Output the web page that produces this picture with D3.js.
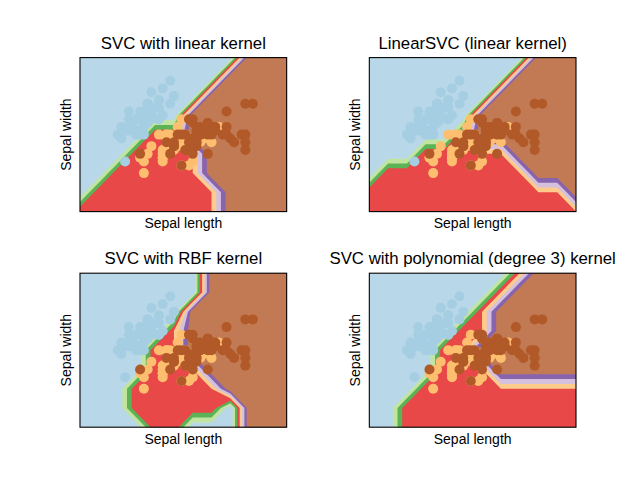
<!DOCTYPE html>
<html lang="en">

<head>
    <title>svm iris</title>
    <script src="https://d3js.org/d3.v7.min.js"></script>
    <style>
        body {
            margin: 0;
            background: white;
        }

        text {
            font-family: "Liberation Sans", sans-serif;
            fill: black;
        }
    </style>
</head>

<body>
    <svg id="canvas" width="640" height="480"></svg>
    <script>
        // iris, first two features
        const setosaLength = [5.1, 4.9, 4.7, 4.6, 5.0, 5.4, 4.6, 5.0, 4.4, 4.9, 5.4, 4.8, 4.8, 4.3, 5.8, 5.7, 5.4, 5.1, 5.7, 5.1, 5.4, 5.1, 4.6, 5.1, 4.8, 5.0, 5.0, 5.2, 5.2, 4.7, 4.8, 5.4, 5.2, 5.5, 4.9, 5.0, 5.5, 4.9, 4.4, 5.1, 5.0, 4.5, 4.4, 5.0, 5.1, 4.8, 5.1, 4.6, 5.3, 5.0]
        const setosaWidth = [3.5, 3.0, 3.2, 3.1, 3.6, 3.9, 3.4, 3.4, 2.9, 3.1, 3.7, 3.4, 3.0, 3.0, 4.0, 4.4, 3.9, 3.5, 3.8, 3.8, 3.4, 3.7, 3.6, 3.3, 3.4, 3.0, 3.4, 3.5, 3.4, 3.2, 3.1, 3.4, 4.1, 4.2, 3.1, 3.2, 3.5, 3.6, 3.0, 3.4, 3.5, 2.3, 3.2, 3.5, 3.8, 3.0, 3.8, 3.2, 3.7, 3.3]
        const versicolorLength = [7.0, 6.4, 6.9, 5.5, 6.5, 5.7, 6.3, 4.9, 6.6, 5.2, 5.0, 5.9, 6.0, 6.1, 5.6, 6.7, 5.6, 5.8, 6.2, 5.6, 5.9, 6.1, 6.3, 6.1, 6.4, 6.6, 6.8, 6.7, 6.0, 5.7, 5.5, 5.5, 5.8, 6.0, 5.4, 6.0, 6.7, 6.3, 5.6, 5.5, 5.5, 6.1, 5.8, 5.0, 5.6, 5.7, 5.7, 6.2, 5.1, 5.7]
        const versicolorWidth = [3.2, 3.2, 3.1, 2.3, 2.8, 2.8, 3.3, 2.4, 2.9, 2.7, 2.0, 3.0, 2.2, 2.9, 2.9, 3.1, 3.0, 2.7, 2.2, 2.5, 3.2, 2.8, 2.5, 2.8, 2.9, 3.0, 2.8, 3.0, 2.9, 2.6, 2.4, 2.4, 2.7, 2.7, 3.0, 3.4, 3.1, 2.3, 3.0, 2.5, 2.6, 3.0, 2.6, 2.3, 2.7, 3.0, 2.9, 2.9, 2.5, 2.8]
        const virginicaLength = [6.3, 5.8, 7.1, 6.3, 6.5, 7.6, 4.9, 7.3, 6.7, 7.2, 6.5, 6.4, 6.8, 5.7, 5.8, 6.4, 6.5, 7.7, 7.7, 6.0, 6.9, 5.6, 7.7, 6.3, 6.7, 7.2, 6.2, 6.1, 6.4, 7.2, 7.4, 7.9, 6.4, 6.3, 6.1, 7.7, 6.3, 6.4, 6.0, 6.9, 6.7, 6.9, 5.8, 6.8, 6.7, 6.7, 6.3, 6.5, 6.2, 5.9]
        const virginicaWidth = [3.3, 2.7, 3.0, 2.9, 3.0, 3.0, 2.5, 2.9, 2.5, 3.6, 3.2, 2.7, 3.0, 2.5, 2.8, 3.2, 3.0, 3.8, 2.6, 2.2, 3.2, 2.8, 2.8, 2.7, 3.3, 3.2, 2.8, 3.0, 2.8, 3.0, 2.8, 3.8, 2.8, 2.8, 2.6, 3.0, 3.4, 3.1, 3.0, 3.1, 3.1, 3.1, 2.7, 3.2, 3.3, 3.0, 2.5, 3.0, 3.4, 3.0]

        // mesh the regions are contoured on
        const meshX = [3.3, 3.8, 4.3, 4.8, 5.3, 5.8, 6.3, 6.8, 7.3, 7.8, 8.3, 8.8]
        const meshY = [1.0, 1.5, 2.0, 2.5, 3.0, 3.5, 4.0, 4.5, 5.0]

        // predicted class on the mesh, one string per meshY row, bottom row first
        const linearGrid = [
            "111111112222",
            "011111112222",
            "001111122222",
            "000111122222",
            "000011222222",
            "000000222222",
            "000000022222",
            "000000002222",
            "000000000222"]
        const linearSvcGrid = [
            "111111111111",
            "111111111112",
            "011111111222",
            "000111112222",
            "000001222222",
            "000000222222",
            "000000022222",
            "000000002222",
            "000000000222"]
        const rbfGrid = [
            "000011000222",
            "000111110222",
            "000111112222",
            "000011122222",
            "000011222222",
            "000001222222",
            "000000222222",
            "000000022222",
            "000000022222"]
        const polyGrid = [
            "001111111111",
            "001111111111",
            "000111111111",
            "000011122222",
            "000011222222",
            "000001122222",
            "000000122222",
            "000000012222",
            "000000001222"]

        const titles = ["SVC with linear kernel", "LinearSVC (linear kernel)", "SVC with RBF kernel", "SVC with polynomial (degree 3) kernel"]
        const grids = [linearGrid, linearSvcGrid, rbfGrid, polyGrid]

        // contourf levels, 1 sits in the red band so the orange level starts just above
        const levels = [0.25, 0.5, 0.75, 1.0001, 1.25, 1.5, 1.75]
        const bandColors = [0, 2, 3, 5, 6, 8, 9, 11].map(i => d3.interpolateRgb("white", d3.schemePaired[i])(0.8))
        const pointColors = [d3.schemePaired[0], d3.schemePaired[6], d3.schemePaired[11]]

        // subplot box of a 2x2 figure at 640x480
        const axWidth = 206.67, axHeight = 154
        const axLeft = [80, 369.33, 80, 369.33]
        const axTop = [57.6, 57.6, 273.2, 273.2]

        const x = d3.scaleLinear().domain([meshX[0], meshX[meshX.length - 1]]).range([0, axWidth])
        const y = d3.scaleLinear().domain([meshY[0], meshY[meshY.length - 1]]).range([axHeight, 0])

        // contour coordinates: mesh cell i is centred on i + 0.5
        const col = d3.scaleLinear().domain([0.5, meshX.length - 0.5]).range([x(meshX[0]), x(meshX[meshX.length - 1])])
        const row = d3.scaleLinear().domain([0.5, meshY.length - 0.5]).range([y(meshY[0]), y(meshY[meshY.length - 1])])
        const geoPathGen = d3.geoPath(d3.geoTransform({
            point: function (px, py) { this.stream.point(col(px), row(py)) }
        }))

        const contours = d3.contours().size([meshX.length, meshY.length]).smooth(true).thresholds(levels)

        const points = []
        setosaLength.forEach((d, i) => points.push({ sl: d, sw: setosaWidth[i], cls: 0 }))
        versicolorLength.forEach((d, i) => points.push({ sl: d, sw: versicolorWidth[i], cls: 1 }))
        virginicaLength.forEach((d, i) => points.push({ sl: d, sw: virginicaWidth[i], cls: 2 }))

        const svg = d3.select("#canvas")

        grids.forEach((grid, k) => {
            const values = grid.join("").split("").map(Number)
            const ax = svg.append("g").attr("transform", `translate(${axLeft[k]},${axTop[k]})`)

            svg.append("clipPath").attr("id", "clip" + k)
                .append("rect").attr("width", axWidth).attr("height", axHeight)

            const plot = ax.append("g").attr("clip-path", `url(#clip${k})`)
            plot.append("rect").attr("width", axWidth).attr("height", axHeight).attr("fill", bandColors[0])

            plot.selectAll(".band")
                .data(contours(values))
                .join("path")
                .attr("class", "band")
                .attr("d", geoPathGen)
                .attr("fill", (d, i) => bandColors[i + 1])

            plot.selectAll("circle")
                .data(points)
                .join("circle")
                .attr("cx", d => x(d.sl))
                .attr("cy", d => y(d.sw))
                .attr("r", 5)
                .attr("fill", d => pointColors[d.cls])

            ax.append("rect")
                .attr("width", axWidth).attr("height", axHeight)
                .attr("fill", "none").attr("stroke", "black").attr("stroke-width", 1.1)

            ax.append("text")
                .attr("x", axWidth / 2).attr("y", -9)
                .attr("text-anchor", "middle").attr("font-size", "16.8px")
                .text(titles[k])

            ax.append("text")
                .attr("x", axWidth / 2).attr("y", axHeight + 16.5)
                .attr("text-anchor", "middle").attr("font-size", "14px")
                .text("Sepal length")

            ax.append("text")
                .attr("transform", `translate(-9,${axHeight / 2}) rotate(-90)`)
                .attr("text-anchor", "middle").attr("font-size", "14px")
                .text("Sepal width")
        })
    </script>
</body>

</html>
